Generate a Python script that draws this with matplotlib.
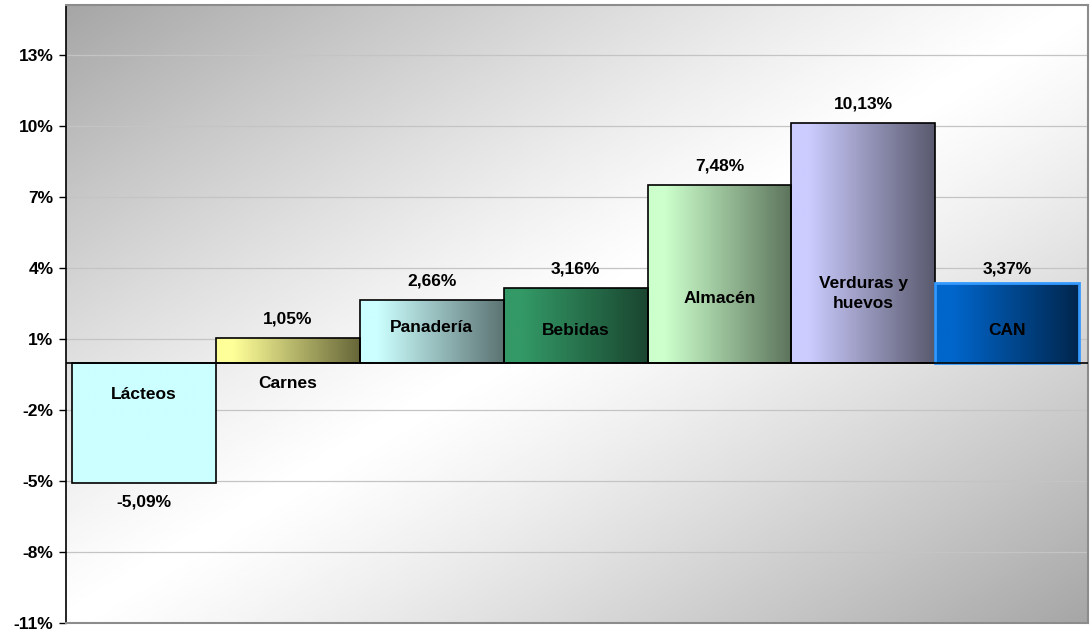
import matplotlib

matplotlib.use("Agg")
import matplotlib.pyplot as plt
import numpy as np
from matplotlib.colors import LinearSegmentedColormap

# data
categories = ["Lácteos", "Carnes", "Panadería", "Bebidas", "Almacén", "Verduras y\nhuevos", "CAN"]
values = [-5.09, 1.05, 2.66, 3.16, 7.48, 10.13, 3.37]
value_labels = ["-5,09%", "1,05%", "2,66%", "3,16%", "7,48%", "10,13%", "3,37%"]
ticks = [-11, -8, -5, -2, 1, 4, 7, 10, 13]

# left / right colour of each bar's horizontal gradient
bar_colors = [
    ("#CCFFFF", "#CCFFFF"),
    ("#FFFF99", "#666639"),
    ("#CCFFFF", "#5C7373"),
    ("#339966", "#1A4630"),
    ("#CCFFCC", "#5C735C"),
    ("#CCCCFF", "#59596E"),
    ("#0066CC", "#00264D"),
]

plt.rcParams["font.family"] = ["Liberation Sans", "DejaVu Sans"]
plt.rcParams["font.weight"] = "bold"

fig = plt.figure(figsize=(10.9, 6.32), dpi=100)
ax = fig.add_axes([66 / 1090, 9 / 632, 1022 / 1090, 618 / 632])
ax.set_xlim(-0.54, 6.56)
ax.set_ylim(-11, 15.1)

# diagonal background: grey top-left and bottom-right, white band in between
gx, gy = np.meshgrid(np.linspace(0, 1, 300), np.linspace(0, 1, 300))
d = (gx + gy) / 2
shade = 1 - np.abs(2 * d - 1) ** 1.2
bg = 0.65 + 0.35 * shade
ax.imshow(bg, cmap="gray", vmin=0, vmax=1, extent=(0, 1, 0, 1),
          transform=ax.transAxes, aspect="auto", zorder=0, interpolation="bilinear")

for t in ticks:
    ax.axhline(t, color="#C4C4C4", lw=0.9, zorder=1)

for i, (v, (c0, c1)) in enumerate(zip(values, bar_colors)):
    cmap = LinearSegmentedColormap.from_list(f"b{i}", [(0, c0), (0.12, c0), (1, c1)], N=256)
    grad = np.linspace(0, 1, 256).reshape(1, -1)
    lo, hi = min(0, v), max(0, v)
    ax.imshow(grad, cmap=cmap, extent=(i - 0.5, i + 0.5, lo, hi),
              aspect="auto", zorder=2, interpolation="bilinear")
    edge = "#3399FF" if categories[i] == "CAN" else "black"
    lw = 2.0 if categories[i] == "CAN" else 1.2
    ax.bar(i, v, width=1.0, facecolor="none", edgecolor=edge, linewidth=lw, zorder=3)

ax.axhline(0, color="black", lw=1.2, zorder=4)

# value labels above (or below) each bar
for i, (v, lab) in enumerate(zip(values, value_labels)):
    off = 19 if v >= 0 else -19
    if categories[i] == "CAN":
        off = 14
    ax.annotate(lab, (i, v), xytext=(0, off), textcoords="offset pixels",
                ha="center", va="center", fontsize=12.5, fontweight="bold", zorder=5)

# category labels inside bars
label_y = [-1.35, -0.9, 1.46, 1.34, 2.7, 2.9, 1.34]
for i, (cat, ly) in enumerate(zip(categories, label_y)):
    ax.text(i, ly, cat, ha="center", va="center", fontsize=12.5,
            fontweight="bold", zorder=5, linespacing=1.4)

ax.set_yticks(ticks)
ax.set_yticklabels([f"{t}%" for t in ticks], fontsize=12.5, fontweight="bold")
ax.set_xticks([])
ax.tick_params(axis="y", length=5, width=1, direction="out", pad=4)

ax.spines["left"].set_color("black")
ax.spines["left"].set_linewidth(1.2)
for s in ("top", "right", "bottom"):
    ax.spines[s].set_color("#8C8C8C")
    ax.spines[s].set_linewidth(1.5)

fig.savefig("out.png", dpi=100)
